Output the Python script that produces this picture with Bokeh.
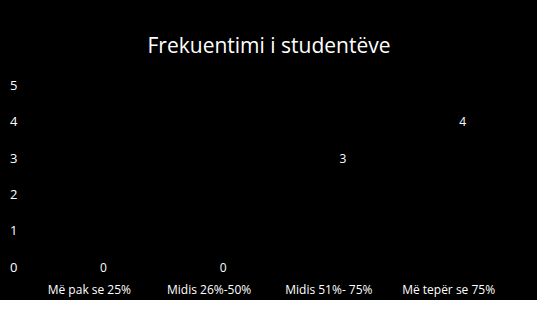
from bokeh.plotting import figure
from bokeh.models import ColumnDataSource, Range1d
from bokeh.core.properties import value
from bokeh.embed import file_html
from bokeh.resources import INLINE

categories = ["Më pak se 25%", "Midis 26%-50%", "Midis 51%- 75%", "Më tepër se 75%"]
values = [0, 0, 3, 4]
labels = [str(v) for v in values]
title = "Frekuentimi i studentëve"

src = ColumnDataSource(dict(cat=categories, val=values, lab=labels))

p = figure(x_range=categories, y_range=Range1d(-0.2, 5.3), width=537, height=300,
           output_backend="svg", toolbar_location=None,
           background_fill_color="black", border_fill_color="black",
           min_border_left=29, min_border_right=29, min_border_top=74, min_border_bottom=22)
p.styles = {"background-color": "black"}
p.outline_line_color = None
p.title.text = title
p.title.align = "center"
p.title.text_color = "white"
p.title.text_font = "Open Sans"
p.title.text_font_size = "21px"
p.title.text_font_style = "normal"
p.title.standoff = 31

p.line("cat", "val", source=src, line_color="black", line_width=1.5)
p.text("cat", "val", text="lab", source=src, text_color="white",
       text_font=value("Open Sans"), text_font_size="12px",
       text_align="center", text_baseline="middle", x_offset=14)

p.xgrid.grid_line_color = None
p.ygrid.grid_line_color = None
p.yaxis.ticker = [0, 1, 2, 3, 4, 5]
for ax in (p.xaxis[0], p.yaxis[0]):
    ax.axis_line_color = None
    ax.major_tick_line_color = None
    ax.minor_tick_line_color = None
    ax.major_tick_out = 0
    ax.major_tick_in = 0
    ax.minor_tick_out = 0
    ax.major_label_text_color = "white"
    ax.major_label_text_font = "Open Sans"
p.yaxis.major_label_text_font_size = "13px"
p.xaxis.major_label_text_font_size = "12px"
p.yaxis.major_label_standoff = 12
p.xaxis.major_label_standoff = 6

open("out.html", "w").write(file_html(p, INLINE))
